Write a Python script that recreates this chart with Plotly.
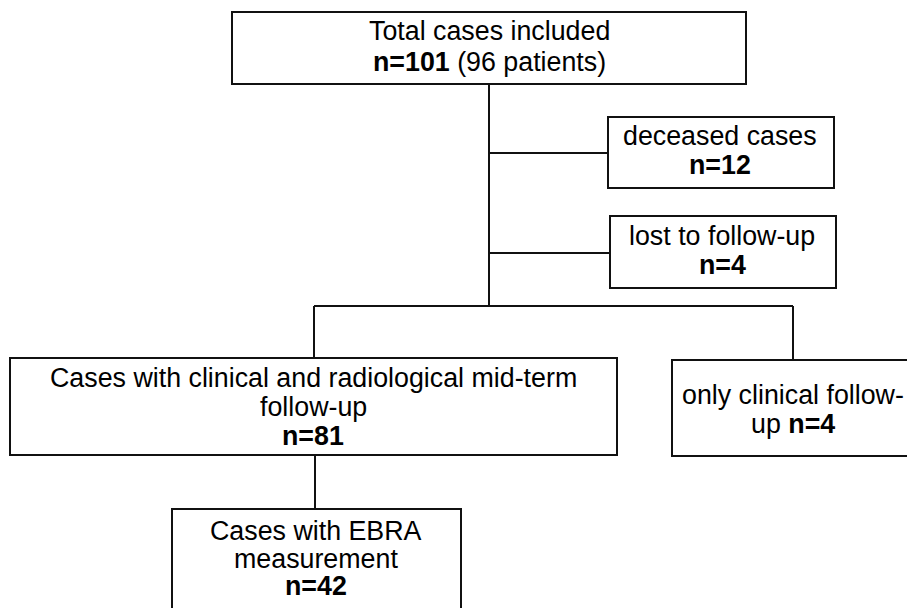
import plotly.graph_objects as go

# ---- data ----
labels = ["Total cases included", "deceased cases", "lost to follow-up",
          "Cases with clinical and radiological mid-term follow-up",
          "only clinical follow-up", "Cases with EBRA measurement"]
counts = [101, 12, 4, 81, 4, 42]
patients_total = 96

# ---- layout geometry (pixels) ----
W, H = 907, 608
boxes = [  # x0, x1, y0, y1
    (232, 746, 12, 84),
    (608, 834, 117, 188),
    (610, 836, 216, 288),
    (10, 617, 358, 455),
    (672, 914, 360, 456),
    (172, 461, 509, 640),
]
# text lines per box: (text, x_center, y_center)
lines = [
    [(labels[0], 489, 31), (f"<b>n={counts[0]}</b> ({patients_total} patients)", 489, 62)],
    [(labels[1], 720, 136), (f"<b>n={counts[1]}</b>", 720, 165)],
    [(labels[2], 722, 236), (f"<b>n={counts[2]}</b>", 722, 265)],
    [("Cases with clinical and radiological mid-term", 313, 378), ("follow-up", 313, 407),
     (f"<b>n={counts[3]}</b>", 313, 436)],
    [("only clinical follow-", 793, 395), (f"up <b>n={counts[4]}</b>", 793, 424)],
    [("Cases with EBRA", 316, 531), ("measurement", 316, 559), (f"<b>n={counts[5]}</b>", 316, 586)],
]
connectors = [  # x0, y0, x1, y1
    (489, 84, 489, 306),
    (489, 153, 608, 153),
    (489, 253, 610, 253),
    (314, 306, 793, 306),
    (314, 306, 314, 358),
    (793, 306, 793, 360),
    (315, 455, 315, 509),
]

fig = go.Figure()
fig.add_trace(go.Scatter(x=[0, W], y=[0, H], mode="markers", marker=dict(opacity=0),
                         hoverinfo="skip", showlegend=False))

line_style = dict(color="#111111", width=2)
for (x0, x1, y0, y1) in boxes:
    fig.add_shape(type="rect", x0=x0, x1=x1, y0=y0, y1=y1, xref="x", yref="y",
                  line=line_style, fillcolor="white", layer="below")
for (x0, y0, x1, y1) in connectors:
    fig.add_shape(type="line", x0=x0, y0=y0, x1=x1, y1=y1, xref="x", yref="y", line=line_style)

for box_lines in lines:
    for (t, xc, yc) in box_lines:
        fig.add_annotation(text=t, x=xc, y=yc, xref="x", yref="y", showarrow=False,
                           xanchor="center", yanchor="middle",
                           font=dict(family="Liberation Sans, Arial, sans-serif", size=26.8, color="#000000"))

fig.update_xaxes(range=[0, W], visible=False, fixedrange=True)
fig.update_yaxes(range=[H, 0], visible=False, fixedrange=True)
fig.update_layout(width=W, height=H, margin=dict(l=0, r=0, t=0, b=0),
                  plot_bgcolor="white", paper_bgcolor="white", showlegend=False,
                  hovermode=False)

fig.write_html("out.html", config={"displayModeBar": False, "staticPlot": True},
               post_script="document.body.style.margin='0px';")
